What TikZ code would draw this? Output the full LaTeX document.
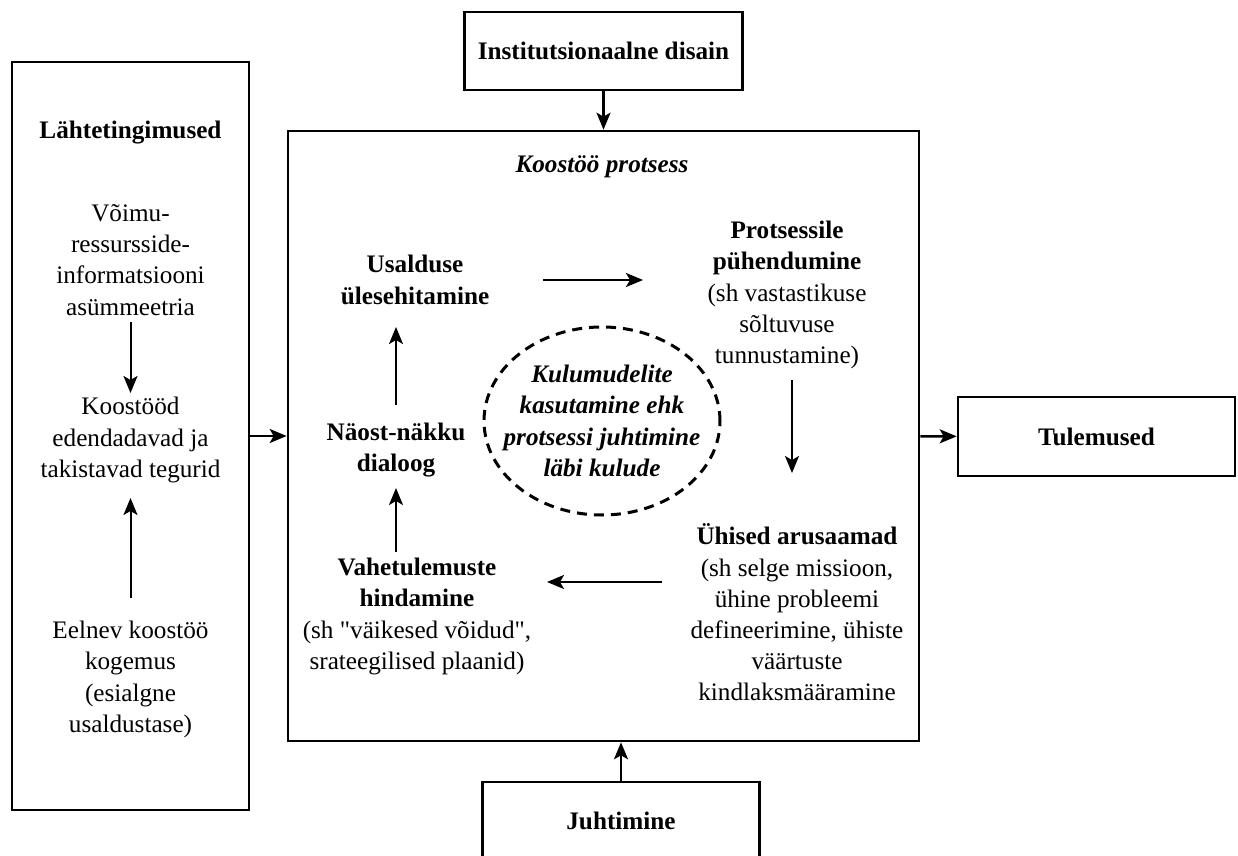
\documentclass[tikz,border=0pt]{standalone}
\usepackage{fontspec}
\setmainfont{Liberation Serif}
\usetikzlibrary{arrows.meta,shapes.geometric}

\begin{document}
\begin{tikzpicture}[x=0.5pt,y=-0.5pt,
		box/.style={draw,line width=1.3pt,inner sep=0pt},
		txt/.style={align=center,inner sep=0pt,font=\fontsize{12.6}{15.6}\selectfont},
		hd/.style={txt,font=\fontsize{12.6}{15.6}\selectfont\bfseries},
		hdit/.style={txt,font=\fontsize{12.6}{15.6}\selectfont\bfseries\itshape},
		arr/.style={-{Stealth[length=8.5pt,width=7pt,inset=2pt]},line width=1pt}]
		\useasboundingbox (0,0) rectangle (1238,856);
		%
		% frames
		\node[box,minimum width=118.5pt,minimum height=374pt] (lht) at (130.5,436) {};
		\node[box,minimum width=315.5pt,minimum height=305pt] (proc) at (603.5,436) {};
		\node[box,hd,minimum width=139pt,minimum height=39pt] (inst) at (603.5,51) {Institutsionaalne disain};
		\node[box,hd,minimum width=138.5pt,minimum height=39pt] (juht) at (621,821) {Juhtimine};
		\node[box,hd,minimum width=138.5pt,minimum height=39.5pt] (tul) at (1096.5,436.5) {Tulemused};
		%
		% left column
		\node[hd] (lhd) at (130.5,133) {Lähtetingimused};
		\node[txt] (vo) at (130.5,260) {Võimu-\\ressursside-\\informatsiooni\\asümmeetria};
		\node[txt] (ko) at (130.5,440) {Koostööd\\edendadavad ja\\takistavad tegurid};
		\node[txt] (ee) at (130.5,679.5) {Eelnev koostöö\\kogemus\\(esialgne\\usaldustase)};
		%
		% process
		\node[hdit] (title) at (602,167) {Koostöö protsess};
		\node[hd] (usal) at (415,280) {Usalduse\\ülesehitamine};
		\node[txt] (prot) at (787,295) {\textbf{Protsessile}\\\textbf{pühendumine}\\(sh vastastikuse\\sõltuvuse\\tunnustamine)};
		\node[txt] (uhi) at (797,612.5) {\textbf{Ühised arusaamad}\\(sh selge missioon,\\ühine probleemi\\defineerimine, ühiste\\väärtuste\\kindlaksmääramine};
		\node[txt] (vah) at (417,616.5) {\textbf{Vahetulemuste}\\\textbf{hindamine}\\(sh \textquotedbl väikesed võidud\textquotedbl,\\srateegilised plaanid)};
		\node[hd] (nao) at (396,450) {Näost-näkku\\dialoog};
		\node[ellipse,draw,line width=1.5pt,dash pattern=on 5pt off 3.5pt,inner sep=0pt,
			minimum width=118pt,minimum height=94pt] (kulu) at (602,421) {};
		\node[hdit] (kulutxt) at (kulu) {Kulumudelite\\kasutamine ehk\\protsessi juhtimine\\läbi kulude};
		%
		% arrows
		\draw[arr,line width=1.2pt] (lht) -- (proc);
		\draw[arr,line width=1.2pt] (inst) -- (proc);
		\draw[arr,line width=1.2pt] (juht) -- (juht |- proc.south);
		\draw[arr,line width=1.2pt] (proc) -- (tul);
		\draw[arr,shorten <=31pt,shorten >=23.5pt] (vo.center) -- (ko.center);
		\draw[arr,shorten <=41pt,shorten >=29pt] (ee.center) -- (ko.center);
		\draw[arr,shorten <=64pt,shorten >=72pt] (usal.center) -- (usal.center -| prot.center);
		\draw[arr,shorten <=42.5pt,shorten >=69.75pt] ([xshift=2.5pt]prot.center) -- ([xshift=2.5pt]prot.center |- uhi.center);
		\draw[arr,shorten <=67.5pt,shorten >=65pt] ([yshift=15.25pt]uhi.center) -- ([yshift=15.25pt]uhi.center -| vah.center);
		\draw[arr,shorten <=32.25pt,shorten >=19pt] (nao.center |- vah.center) -- (nao.center);
		\draw[arr,shorten <=22.5pt,shorten >=23.5pt] (nao.center) -- (nao.center |- usal.center);
	\end{tikzpicture}
\end{document}
